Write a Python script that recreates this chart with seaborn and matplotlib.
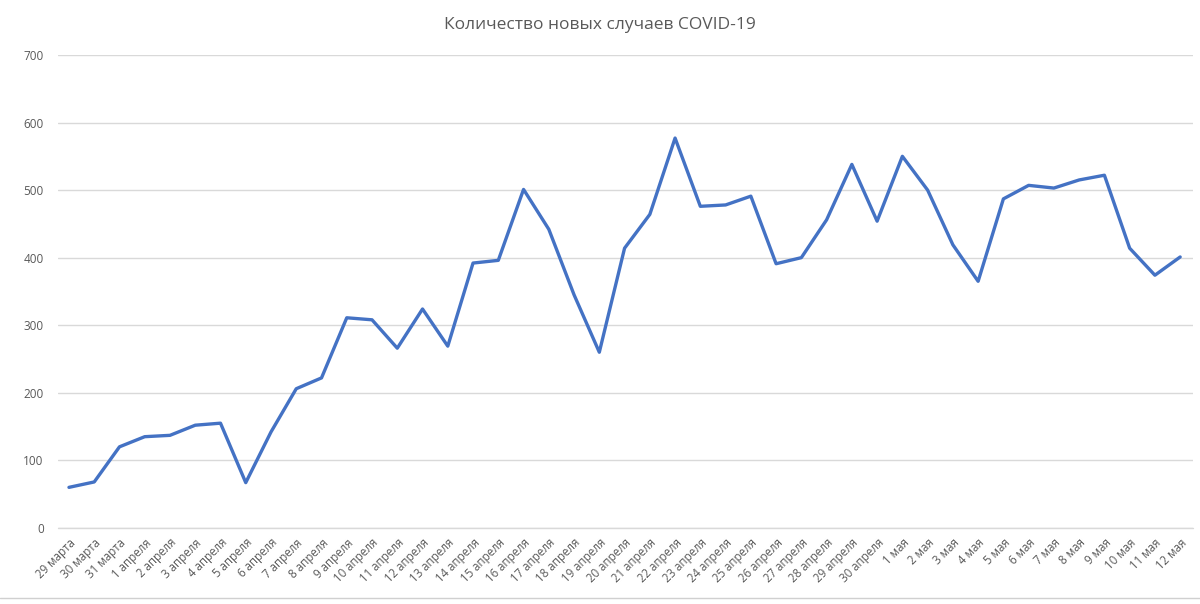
import matplotlib
matplotlib.use("Agg")
import matplotlib.pyplot as plt
import seaborn as sns
import pandas as pd
from matplotlib.lines import Line2D

dates = (["29 марта", "30 марта", "31 марта"]
         + [f"{d} апреля" for d in range(1, 31)]
         + [f"{d} мая" for d in range(1, 13)])

cases = [60, 68, 120, 135, 137, 152, 155, 67, 142, 206, 222, 311, 308, 266, 324,
         269, 392, 396, 501, 442, 345, 260, 414, 464, 577, 476, 478, 491, 391, 400,
         456, 538, 454, 550, 500, 419, 365, 487, 507, 503, 515, 522, 414, 374, 401]

title = "Количество новых случаев COVID-19"
yticks = [0, 100, 200, 300, 400, 500, 600, 700]

df = pd.DataFrame({"pos": range(len(dates)), "date": dates, "cases": cases})

sns.set_theme(style="white")
plt.rcParams['font.family'] = ['Open Sans', 'DejaVu Sans']

fig = plt.figure(figsize=(12, 6.04), dpi=100)
ax = fig.add_axes([0.048, 0.126, 0.946, 0.783])

sns.lineplot(data=df, x="pos", y="cases", ax=ax, color="#4472C4", linewidth=2.4)

ax.set_xlim(-0.45, len(dates) - 0.5)
ax.set_ylim(0, 700)
ax.set_yticks(yticks)
ax.set_yticklabels([str(v) for v in yticks], color="#595959", fontsize=8.5)
ax.set_xticks(df["pos"])
ax.set_xticklabels(df["date"], rotation=45, ha="right", rotation_mode="anchor",
                   color="#595959", fontsize=8.3)
ax.tick_params(axis="both", length=0, pad=6)
ax.tick_params(axis="y", pad=10)
ax.set_xlabel("")
ax.set_ylabel("")
ax.grid(axis="y", color="#D9D9D9", linewidth=1)
ax.set_axisbelow(True)
ax.axhline(0, color="#D9D9D9", linewidth=1, clip_on=False, zorder=0)
for s in ax.spines.values():
    s.set_visible(False)

fig.text(0.5, 0.958, title, ha="center", va="center", fontsize=12.5, color="#595959")

fig.add_artist(Line2D([0, 1], [0.01, 0.01], color="#D0D0D0", linewidth=1, transform=fig.transFigure))

fig.savefig("out.png", dpi=100)
